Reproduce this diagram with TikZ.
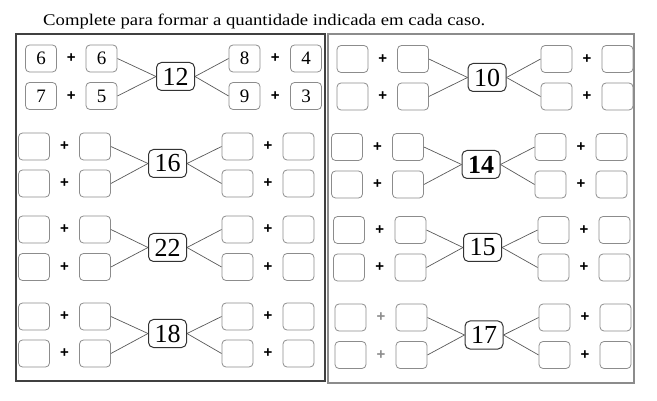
\documentclass[tikz,border=0pt]{standalone}
\usepackage{fontspec}
\setmainfont{Liberation Serif}
\newfontfamily\plusfont{Liberation Sans}
\begin{document}
\begin{tikzpicture}[x=1pt,y=-1pt,
  cell/.style={draw=black!45,line width=0.8pt,rounded corners=4pt,minimum width=31pt,minimum height=27pt,inner sep=0pt,font=\fontsize{19}{19}\selectfont},
  total/.style={draw=black!80,line width=1pt,rounded corners=5pt,minimum width=38pt,minimum height=28pt,inner sep=0pt,fill=white,font=\fontsize{26}{26}\selectfont},
  plus/.style={inner sep=0pt,font=\plusfont\bfseries\fontsize{15}{15}\selectfont},
  link/.style={draw=black!65,line width=0.7pt},
  frameL/.style={draw=black!75,line width=1.1pt},
  frameR/.style={draw=black!45,line width=1.1pt}]
\useasboundingbox (0,0) rectangle (657,401);
\node[anchor=base west,inner sep=0pt] (title) at (43,26)
  {\resizebox{442pt}{11.5pt}{Complete para formar a quantidade indicada em cada caso.}};
\draw[frameL] (16,34) rectangle (325,381);
\draw[frameR] (328,34) rectangle (634,383);
\foreach \id/\xa/\xb/\xc/\xd/\cx/\ya/\yb/\yc/\lab/\ta/\tb/\tc/\td/\te/\tf/\tg/\th/\pc in {
  g1/41/101.5/244.5/306/175.5/58.5/96/76.5/12/6/6/8/4/7/5/9/3/black,
  g2/34/95/237.5/298.5/167.5/146.5/183.5/163.5/16/{}/{}/{}/{}/{}/{}/{}/{}/black,
  g3/34/95/237.5/298.5/167.5/229.5/267/247.5/22/{}/{}/{}/{}/{}/{}/{}/{}/black,
  g4/34/95/237.5/298.5/167.5/316.5/353.5/333.5/18/{}/{}/{}/{}/{}/{}/{}/{}/black,
  g5/352.5/413/556.5/617.5/487/59/96.5/77.5/10/{}/{}/{}/{}/{}/{}/{}/{}/black,
  g6/347/408/550.5/611.5/481/147/184.5/164.5/{\textbf{14}}/{}/{}/{}/{}/{}/{}/{}/{}/black,
  g7/349/410.5/553.5/614.5/482.5/230/267.5/247.5/15/{}/{}/{}/{}/{}/{}/{}/{}/black,
  g8/350.5/411.5/554.5/615.5/484/317.5/355/335/17/{}/{}/{}/{}/{}/{}/{}/{}/black!45}{
  \node[cell] (\id-t1) at (\xa,\ya) {\ta};
  \node[cell] (\id-t2) at (\xb,\ya) {\tb};
  \node[cell] (\id-t3) at (\xc,\ya) {\tc};
  \node[cell] (\id-t4) at (\xd,\ya) {\td};
  \node[cell] (\id-u1) at (\xa,\yb) {\te};
  \node[cell] (\id-u2) at (\xb,\yb) {\tf};
  \node[cell] (\id-u3) at (\xc,\yb) {\tg};
  \node[cell] (\id-u4) at (\xd,\yb) {\th};
  \node[plus,text=\pc] (\id-p1) at ({(\xa+\xb)/2},\ya) {+};
  \node[plus,text=\pc] (\id-p2) at ({(\xa+\xb)/2},\yb) {+};
  \node[plus] (\id-p3) at ({(\xc+\xd)/2},\ya) {+};
  \node[plus] (\id-p4) at ({(\xc+\xd)/2},\yb) {+};
  \node[total] (\id-c) at (\cx,\yc) {\lab};
  \draw[link] (\id-t2.east) -- (\id-c.west);
  \draw[link] (\id-u2.east) -- (\id-c.west);
  \draw[link] (\id-c.east) -- (\id-t3.west);
  \draw[link] (\id-c.east) -- (\id-u3.west);
}
\end{tikzpicture}
\end{document}
